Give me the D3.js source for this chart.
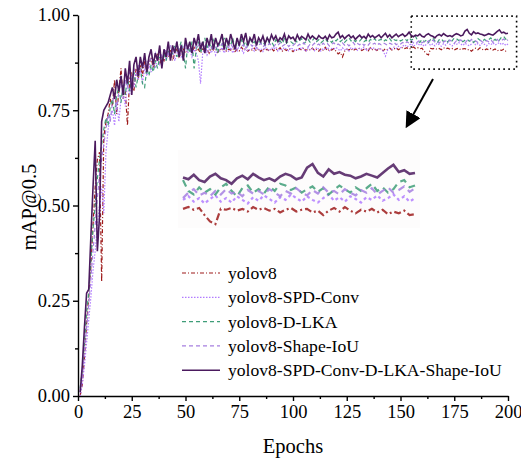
<!DOCTYPE html>
<html>
<head>
	<meta charset="utf-8" />
	<title>mAP@0.5 curves</title>
	<script src="https://d3js.org/d3.v7.min.js"></script>
</head>
<style>
	body { margin: 0; background: #fff; }
	text { font-family: 'Liberation Serif', 'Times New Roman', serif; fill: #000; }
	.axis path, .axis line { stroke: #000; stroke-width: 1.4px; }
	.axis text { font-size: 18.5px; font-family: 'Liberation Serif', serif; }
	.curve { fill: none; }
</style>
<body>
	<script>
		// epochs 1..200
		var epochs = d3.range(1, 201);

		var yolov8 = [
			0.00,0.03,0.10,0.19,0.26,0.34,0.45,0.55,0.62,0.64,
			0.30,0.68,0.72,0.74,0.78,0.76,0.83,0.74,0.80,0.86,
			0.78,0.80,0.71,0.83,0.85,0.80,0.86,0.83,0.87,0.84,
			0.88,0.85,0.87,0.89,0.86,0.88,0.90,0.87,0.89,0.88,
			0.90,0.89,0.91,0.88,0.90,0.91,0.89,0.90,0.91,0.90,
			0.905,0.91,0.90,0.915,0.905,0.91,0.90,0.912,0.905,0.91,
			0.90,0.915,0.908,0.91,0.902,0.912,0.906,0.914,0.905,0.91,
			0.908,0.912,0.904,0.91,0.906,0.915,0.908,0.912,0.905,0.91,
			0.908,0.913,0.906,0.911,0.904,0.912,0.907,0.91,0.905,0.913,
			0.906,0.911,0.908,0.914,0.905,0.91,0.907,0.912,0.909,0.904,
			0.91,0.906,0.912,0.908,0.914,0.906,0.911,0.908,0.913,0.907,
			0.91,0.905,0.912,0.908,0.915,0.906,0.91,0.908,0.912,0.905,
			0.898,0.902,0.89,0.905,0.91,0.908,0.912,0.906,0.911,0.909,
			0.913,0.907,0.91,0.912,0.906,0.914,0.909,0.911,0.907,0.912,
			0.91,0.906,0.912,0.909,0.913,0.908,0.911,0.914,0.909,0.912,
			0.915,0.912,0.914,0.91,0.913,0.916,0.912,0.914,0.911,0.913,
			0.905,0.898,0.895,0.912,0.911,0.913,0.91,0.912,0.909,0.914,
			0.911,0.913,0.91,0.912,0.908,0.911,0.913,0.909,0.911,0.912,
			0.908,0.91,0.905,0.91,0.913,0.909,0.914,0.91,0.907,0.911,
			0.909,0.912,0.908,0.911,0.906,0.909,0.907,0.91,0.905,0.906
		];

		var spdConv = [
			0.00,0.03,0.08,0.14,0.20,0.26,0.33,0.38,0.45,0.50,
			0.55,0.48,0.64,0.70,0.73,0.75,0.71,0.77,0.72,0.78,
			0.80,0.76,0.82,0.79,0.84,0.81,0.85,0.83,0.86,0.82,
			0.86,0.84,0.87,0.85,0.88,0.86,0.89,0.87,0.88,0.90,
			0.88,0.90,0.89,0.91,0.88,0.90,0.91,0.89,0.90,0.92,
			0.90,0.91,0.89,0.91,0.90,0.88,0.82,0.90,0.91,0.895,
			0.91,0.90,0.915,0.895,0.91,0.905,0.915,0.90,0.91,0.905,
			0.915,0.90,0.91,0.905,0.92,0.91,0.90,0.915,0.905,0.91,
			0.912,0.905,0.915,0.908,0.912,0.904,0.916,0.91,0.906,0.914,
			0.91,0.916,0.905,0.912,0.908,0.915,0.91,0.906,0.914,0.91,
			0.905,0.912,0.908,0.916,0.91,0.904,0.914,0.909,0.912,0.906,
			0.915,0.91,0.905,0.913,0.909,0.916,0.906,0.912,0.91,0.915,
			0.91,0.906,0.914,0.908,0.912,0.905,0.915,0.91,0.913,0.907,
			0.914,0.91,0.916,0.906,0.912,0.909,0.915,0.911,0.907,0.913,
			0.91,0.905,0.892,0.908,0.914,0.91,0.916,0.912,0.918,0.914,
			0.918,0.922,0.916,0.92,0.925,0.918,0.922,0.926,0.92,0.924,
			0.918,0.923,0.927,0.92,0.924,0.919,0.926,0.922,0.918,0.925,
			0.921,0.927,0.923,0.919,0.925,0.922,0.928,0.924,0.92,0.926,
			0.922,0.919,0.924,0.928,0.921,0.925,0.92,0.926,0.923,0.919,
			0.925,0.922,0.927,0.921,0.924,0.928,0.922,0.926,0.92,0.924
		];

		var dLKA = [
			0.02,0.07,0.14,0.22,0.27,0.36,0.44,0.50,0.57,0.62,
			0.66,0.70,0.73,0.71,0.76,0.78,0.74,0.79,0.81,0.77,
			0.82,0.79,0.84,0.80,0.83,0.85,0.81,0.84,0.86,0.82,
			0.81,0.86,0.84,0.87,0.85,0.88,0.86,0.89,0.87,0.90,
			0.88,0.91,0.89,0.90,0.92,0.89,0.91,0.93,0.90,0.86,
			0.92,0.90,0.93,0.86,0.91,0.93,0.90,0.92,0.94,0.91,
			0.93,0.91,0.94,0.92,0.90,0.93,0.92,0.94,0.91,0.93,
			0.92,0.94,0.91,0.93,0.92,0.935,0.92,0.93,0.915,0.94,
			0.925,0.93,0.92,0.935,0.925,0.93,0.92,0.94,0.925,0.93,
			0.92,0.935,0.928,0.932,0.924,0.938,0.926,0.932,0.93,0.925,
			0.935,0.928,0.932,0.938,0.925,0.93,0.936,0.928,0.933,0.94,
			0.93,0.935,0.927,0.932,0.938,0.93,0.934,0.928,0.936,0.932,
			0.938,0.93,0.935,0.928,0.934,0.94,0.932,0.936,0.93,0.935,
			0.932,0.938,0.93,0.934,0.928,0.936,0.932,0.938,0.93,0.934,
			0.936,0.93,0.935,0.932,0.938,0.93,0.935,0.933,0.937,0.932,
			0.935,0.938,0.932,0.94,0.934,0.937,0.944,0.932,0.928,0.936,
			0.93,0.934,0.928,0.936,0.94,0.932,0.926,0.935,0.938,0.93,
			0.934,0.929,0.937,0.932,0.94,0.938,0.933,0.936,0.93,0.934,
			0.937,0.931,0.935,0.928,0.933,0.938,0.934,0.93,0.936,0.932,
			0.935,0.94,0.932,0.936,0.93,0.934,0.942,0.944,0.936,0.938
		];

		var shapeIoU = [
			0.01,0.05,0.12,0.18,0.24,0.31,0.38,0.45,0.52,0.58,
			0.62,0.66,0.70,0.74,0.72,0.77,0.79,0.75,0.80,0.82,
			0.78,0.83,0.81,0.85,0.82,0.86,0.84,0.87,0.85,0.88,
			0.86,0.88,0.87,0.89,0.88,0.90,0.88,0.91,0.89,0.90,
			0.91,0.89,0.92,0.90,0.91,0.93,0.90,0.92,0.91,0.93,
			0.91,0.92,0.90,0.93,0.91,0.92,0.93,0.91,0.92,0.905,
			0.92,0.91,0.925,0.91,0.92,0.915,0.925,0.91,0.92,0.915,
			0.925,0.915,0.92,0.91,0.925,0.918,0.922,0.912,0.92,0.925,
			0.918,0.924,0.914,0.92,0.926,0.916,0.922,0.918,0.925,0.92,
			0.916,0.924,0.92,0.927,0.918,0.922,0.925,0.917,0.923,0.92,
			0.925,0.918,0.923,0.92,0.927,0.92,0.916,0.924,0.92,0.926,
			0.92,0.924,0.918,0.926,0.921,0.925,0.918,0.923,0.927,0.92,
			0.924,0.92,0.927,0.921,0.925,0.919,0.924,0.928,0.92,0.925,
			0.922,0.927,0.92,0.925,0.921,0.928,0.923,0.926,0.92,0.925,
			0.922,0.927,0.924,0.92,0.926,0.923,0.928,0.922,0.926,0.924,
			0.928,0.924,0.93,0.926,0.932,0.927,0.924,0.93,0.934,0.927,
			0.93,0.926,0.932,0.928,0.934,0.929,0.931,0.926,0.933,0.929,
			0.932,0.928,0.934,0.93,0.926,0.932,0.929,0.935,0.93,0.927,
			0.933,0.929,0.936,0.93,0.932,0.928,0.934,0.93,0.927,0.933,
			0.93,0.935,0.928,0.932,0.936,0.93,0.933,0.937,0.931,0.935
		];

		var combined = [
			0.01,0.08,0.18,0.27,0.28,0.42,0.55,0.67,0.38,0.47,
			0.72,0.75,0.76,0.77,0.79,0.81,0.78,0.83,0.80,0.84,
			0.79,0.86,0.82,0.88,0.79,0.87,0.89,0.84,0.89,0.86,
			0.90,0.85,0.89,0.91,0.87,0.90,0.88,0.92,0.86,0.91,
			0.89,0.93,0.88,0.92,0.90,0.93,0.89,0.92,0.88,0.94,
			0.91,0.93,0.90,0.94,0.92,0.95,0.91,0.93,0.90,0.94,
			0.92,0.95,0.91,0.94,0.92,0.93,0.95,0.91,0.94,0.92,
			0.95,0.93,0.91,0.94,0.92,0.95,0.93,0.953,0.92,0.94,
			0.93,0.95,0.92,0.94,0.93,0.945,0.925,0.94,0.93,0.948,
			0.935,0.945,0.93,0.94,0.935,0.95,0.93,0.945,0.938,0.942,
			0.932,0.948,0.936,0.944,0.94,0.935,0.95,0.938,0.945,0.94,
			0.936,0.946,0.94,0.938,0.944,0.935,0.948,0.94,0.942,0.95,
			0.955,0.94,0.946,0.938,0.944,0.948,0.94,0.945,0.936,0.942,
			0.947,0.94,0.944,0.938,0.95,0.942,0.946,0.94,0.944,0.948,
			0.94,0.946,0.952,0.942,0.948,0.94,0.945,0.95,0.943,0.947,
			0.95,0.944,0.948,0.955,0.946,0.943,0.947,0.945,0.95,0.944,
			0.942,0.948,0.951,0.946,0.944,0.94,0.946,0.949,0.945,0.951,
			0.947,0.944,0.946,0.943,0.948,0.951,0.949,0.945,0.947,0.958,
			0.962,0.952,0.948,0.956,0.951,0.953,0.95,0.949,0.946,0.948,
			0.951,0.949,0.947,0.952,0.957,0.961,0.953,0.955,0.951,0.952
		];

		var seriesNames = ["yolov8", "yolov8-SPD-Conv", "yolov8-D-LKA", "yolov8-Shape-IoU", "yolov8-SPD-Conv-D-LKA-Shape-IoU"];
		var seriesValues = [yolov8, spdConv, dLKA, shapeIoU, combined];
		var colors = ["#9e1b1b", "#b27cff", "#3f9d78", "#a67fe0", "#4b1a5e"];
		var dashes = ["4,2,1,2", "1.5,1.5", "4,3", "4,3", null];
		var xTicks = [0, 25, 50, 75, 100, 125, 150, 175, 200];
		var yTicks = [0, 0.25, 0.5, 0.75, 1.0];

		var width = 521, height = 463;
		var svg = d3.select("body").append("svg")
			.attr("width", width)
			.attr("height", height);

		var x = d3.scaleLinear().domain([0, 200]).range([78, 508]);
		var y = d3.scaleLinear().domain([0, 1]).range([396, 15]);

		//minor ticks
		svg.append("g")
			.attr("class", "axis")
			.attr("transform", "translate(0,396)")
			.call(d3.axisBottom(x).tickValues(d3.range(12.5, 200, 25)).tickSize(3).tickFormat(""))
			.select(".domain").remove();
		svg.append("g")
			.attr("class", "axis")
			.attr("transform", "translate(78,0)")
			.call(d3.axisLeft(y).tickValues(d3.range(0.125, 1, 0.25)).tickSize(3).tickFormat(""))
			.select(".domain").remove();

		//major axes
		svg.append("g")
			.attr("class", "axis")
			.attr("transform", "translate(0,396)")
			.call(d3.axisBottom(x).tickValues(xTicks).tickSize(5).tickSizeOuter(0).tickPadding(4));
		svg.append("g")
			.attr("class", "axis")
			.attr("transform", "translate(78,0)")
			.call(d3.axisLeft(y).tickValues(yTicks).tickSize(5).tickSizeOuter(0).tickPadding(3).tickFormat(d3.format(".2f")));

		svg.append("text")
			.attr("x", 293).attr("y", 453)
			.attr("text-anchor", "middle")
			.style("font-size", "20.5px")
			.text("Epochs");
		svg.append("text")
			.attr("transform", "translate(36,207) rotate(-90)")
			.attr("text-anchor", "middle")
			.style("font-size", "20.5px")
			.text("mAP@0.5");

		//curves
		var line = d3.line()
			.x(function(d, i) { return x(epochs[i]); })
			.y(function(d) { return y(d); });

		seriesValues.forEach(function(vals, k) {
			svg.append("path")
				.attr("class", "curve")
				.attr("d", line(vals))
				.attr("stroke", colors[k])
				.attr("stroke-width", k === 4 ? 1.6 : 1.2)
				.attr("stroke-dasharray", dashes[k]);
		});

		//zoom box
		svg.append("rect")
			.attr("x", x(155)).attr("y", y(0.997))
			.attr("width", x(204) - x(155))
			.attr("height", y(0.858) - y(0.997))
			.attr("fill", "none")
			.attr("stroke", "#000")
			.attr("stroke-width", 1.6)
			.attr("stroke-dasharray", "1.6,3.4");

		//arrow
		var defs = svg.append("defs");
		defs.append("marker")
			.attr("id", "head")
			.attr("viewBox", "0 0 10 10")
			.attr("refX", 7).attr("refY", 5)
			.attr("markerWidth", 8).attr("markerHeight", 8)
			.attr("orient", "auto")
			.append("path")
			.attr("d", "M0,0 L10,5 L0,10 z")
			.attr("fill", "#000");
		svg.append("line")
			.attr("x1", 433).attr("y1", 79)
			.attr("x2", 408).attr("y2", 124)
			.attr("stroke", "#000")
			.attr("stroke-width", 2)
			.attr("marker-end", "url(#head)");

		//inset (magnified end of training)
		var ix = d3.scaleLinear().domain([157, 200]).range([183, 415]);
		var iy = d3.scaleLinear().domain([0.894, 0.972]).range([225, 155]);
		var inset = svg.append("g");
		inset.append("rect")
			.attr("x", 178).attr("y", 150).attr("width", 242).attr("height", 78)
			.attr("fill", "#fdfcfc");
		defs.append("clipPath").attr("id", "insetClip")
			.append("rect").attr("x", 178).attr("y", 150).attr("width", 242).attr("height", 78);
		var iline = d3.line()
			.defined(function(d, i) { return epochs[i] >= 157; })
			.x(function(d, i) { return ix(epochs[i]); })
			.y(function(d) { return iy(d); });
		var insetDashes = ["7,3,2,3", "3,3", "7,5", "7,5", null];
		seriesValues.forEach(function(vals, k) {
			inset.append("path")
				.attr("class", "curve")
				.attr("clip-path", "url(#insetClip)")
				.attr("d", iline(vals))
				.attr("stroke", colors[k])
				.attr("stroke-opacity", 0.85)
				.attr("stroke-width", k === 4 ? 2.6 : 2.2)
				.attr("stroke-dasharray", insetDashes[k]);
		});

		//legend
		var legend = svg.append("g")
			.selectAll("g")
			.data(seriesNames)
			.enter().append("g")
			.attr("transform", function(d, i) { return "translate(182," + (273 + i * 24.3) + ")"; });
		legend.append("line")
			.attr("x1", 0).attr("x2", 38)
			.attr("stroke", function(d, i) { return colors[i]; })
			.attr("stroke-width", function(d, i) { return i === 4 ? 1.6 : 1.2; })
			.attr("stroke-dasharray", function(d, i) { return dashes[i]; });
		legend.append("text")
			.attr("x", 46).attr("y", 6)
			.style("font-size", "17.6px")
			.text(function(d) { return d; });
	</script>
</body>
</html>
